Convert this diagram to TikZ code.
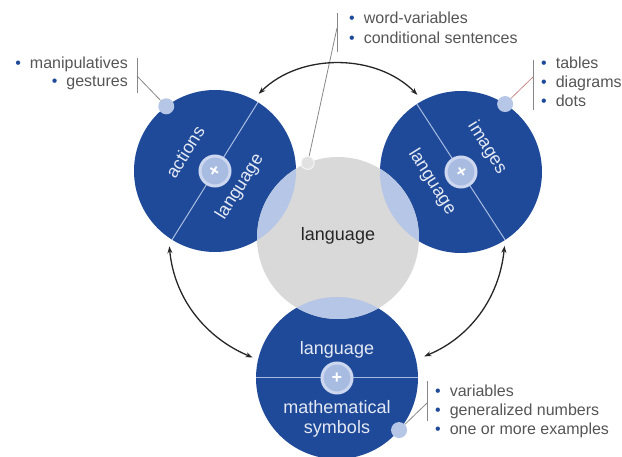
\documentclass[tikz,border=0pt]{standalone}
\usepackage{fontspec}
\setmainfont{Liberation Sans}
\usetikzlibrary{arrows.meta}
\definecolor{dblue}{RGB}{31,74,153}
\definecolor{lblue}{RGB}{182,198,230}
\definecolor{lgrey}{RGB}{217,217,217}
\definecolor{hubfill}{RGB}{168,188,226}
\definecolor{hubring}{RGB}{205,216,240}
\definecolor{ctext}{RGB}{228,233,244}
\definecolor{labtext}{RGB}{85,85,85}
\definecolor{leadc}{RGB}{135,135,135}
\definecolor{leadr}{RGB}{200,140,140}
\newcommand{\mybul}{\textcolor{dblue}{\textbullet}\hspace{9pt}}
\begin{document}
\begin{tikzpicture}[x=1pt,y=1pt,
  big/.style={circle, minimum size=162pt, inner sep=0pt, outer sep=0pt},
  bluec/.style={big, fill=dblue},
  greyc/.style={big, fill=lgrey},
  hub/.style={circle, minimum size=30pt, inner sep=0pt, fill=hubfill, draw=hubring, line width=3pt},
  plussign/.style={text=white, font=\fontsize{18}{18}\selectfont\bfseries, inner sep=0pt},
  dotc/.style={circle, minimum size=16pt, inner sep=0pt, fill=lblue},
  gdot/.style={circle, minimum size=13pt, inner sep=0pt, fill=lgrey!80!white, draw=white!80!lgrey, line width=1pt},
  ctxt/.style={text=ctext, font=\fontsize{18}{20}\selectfont, inner sep=0pt},
  lab/.style={text=labtext, font=\fontsize{16}{19}\selectfont, inner sep=0pt, text height=11.5pt, text depth=3.5pt},
  leaderline/.style={draw=leadc, line width=0.8pt},
  divline/.style={draw=hubfill, line width=1pt},
  arr/.style={{Stealth[length=7pt,width=5pt]}-{Stealth[length=7pt,width=5pt]}, line width=1.3pt, draw=black!85}
]
\useasboundingbox (0,0) rectangle (622,-457);
% big circles
\node[bluec] (L) at (215,-171) {};
\node[bluec] (R) at (461,-172) {};
\node[bluec] (B) at (337,-378) {};
\node[greyc] (G) at (338,-238) {};
% overlaps
\begin{scope}
  \clip (G.center) circle (81);
  \fill[lblue] (L.center) circle (81);
  \fill[lblue] (R.center) circle (81);
  \fill[lblue] (B.center) circle (81);
\end{scope}
% dividing lines
\draw[divline] (L.238) -- (L.58);
\draw[divline] (R.123) -- (R.303);
\draw[divline] (B.west) -- (B.east);
% hubs
\node[hub] (Lh) at (L.center) {};
\node[plussign, rotate=58] (Lp) at (Lh.center) {+};
\node[hub] (Rh) at (R.center) {};
\node[plussign, rotate=-58] (Rp) at (Rh.center) {+};
\node[hub] (Bh) at (B.center) {};
\node[plussign] (Bp) at (Bh.center) {+};
% circle texts
\node[ctxt, rotate=58] (La) at ([shift={(-30,19)}]L.center) {actions};
\node[ctxt, rotate=58] (Ll) at ([shift={(25,-16)}]L.center) {language};
\node[ctxt, rotate=-58] (Ri) at ([shift={(26,24)}]R.center) {images};
\node[ctxt, rotate=-58] (Rl) at ([shift={(-29,-10)}]R.center) {language};
\node[ctxt] (Bl) at ([shift={(0,28)}]B.center) {language};
\node[ctxt, align=center] (Bm) at ([shift={(0,-41)}]B.center) {mathematical\\symbols};
\node[font=\fontsize{18}{20}\selectfont, text=black!85, inner sep=0pt] (Gl) at ([shift={(0,2)}]G.center) {language};
% edge dots
\node[dotc] (Ld) at (L.127) {};
\node[dotc] (Rd) at (R.57) {};
\node[dotc] (Bd) at (B.-40) {};
\node[gdot] (Gd) at (G.112) {};
% leaders
\coordinate (lb1) at (137,-58);
\coordinate (lb2) at (137,-93);
\coordinate (lbm) at (137,-76);
\draw[leaderline] (lb1) -- (lb2);
\draw[leaderline] (lbm) -- (Ld);
\coordinate (tb1) at (337,-13);
\coordinate (tb2) at (337,-52);
\coordinate (tbm) at (337,-28);
\draw[leaderline] (tb1) -- (tb2);
\draw[leaderline] (tbm) -- (Gd);
\coordinate (rb1) at (533,-60);
\coordinate (rb2) at (533,-110);
\coordinate (rbm) at (533,-77);
\draw[leaderline] (rb1) -- (rb2);
\draw[leaderline, draw=leadr] (rbm) -- (Rd);
\coordinate (bb1) at (427,-381);
\coordinate (bb2) at (427,-421);
\coordinate (bbm) at (427,-403);
\draw[leaderline] (bb1) -- (bb2);
\draw[leaderline] (bbm) -- (Bd);
% labels
\node[lab, anchor=east] (m1) at (128,-65) {\mybul manipulatives};
\node[lab, anchor=east] (m2) at (128,-83) {\mybul gestures};
\node[lab, anchor=west] (t1) at (349,-20) {\mybul word-variables};
\node[lab, anchor=west] (t2) at (349,-40) {\mybul conditional sentences};
\node[lab, anchor=west] (r1) at (541,-65) {\mybul tables};
\node[lab, anchor=west] (r2) at (541,-84) {\mybul diagrams};
\node[lab, anchor=west] (r3) at (541,-103) {\mybul dots};
\node[lab, anchor=west] (b1) at (435,-393) {\mybul variables};
\node[lab, anchor=west] (b2) at (435,-412) {\mybul generalized numbers};
\node[lab, anchor=west] (b3) at (435,-431) {\mybul one or more examples};
% arrows
\draw[arr, shorten <=8pt, shorten >=8pt] (L.62) to[bend left=45] (R.118);
\draw[arr, shorten <=9pt, shorten >=6pt] (L.235) to[bend right=31] (B.167);
\draw[arr, shorten <=6pt, shorten >=9pt] (R.303) to[bend left=31] (B.13);
\end{tikzpicture}
\end{document}
